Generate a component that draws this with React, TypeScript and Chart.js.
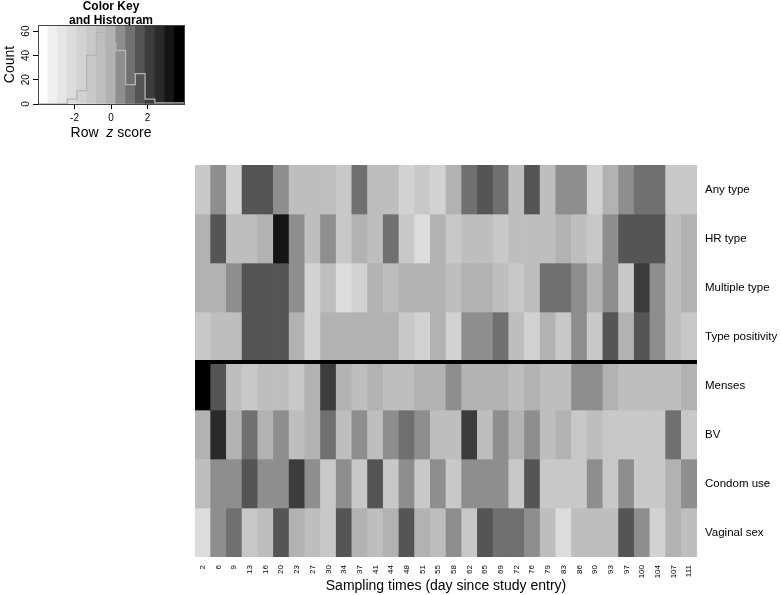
import React, { useEffect, useRef } from "react";
import { Chart, registerables } from "chart.js";

Chart.register(...registerables);

// ---------- data ----------
const sampleDays = ["2","6","9","13","16","20","23","27","30","34","37","41","44","48","51","55","58","62","65","69","72","76","79","83","86","90","93","97","100","104","107","111"];

const rowLabels = ["Any type","HR type","Multiple type","Type positivity","Menses","BV","Condom use","Vaginal sex"];

// row z scores, one value per sampling time
const zAnyType = [-1.1,0.5,-1.6,1.6,1.6,0.5,-0.5,-0.5, -0.5,-1.1,1.1,-0.5,-0.5,-1.6,-1.1,-1.6, 0,1.1,1.6,1.1,-0.5,1.6,-0.5,0.5, 0.5,-1.6,0,0.5,1.1,1.1,-1.1,-1.1];
const zHRType = [0,1.6,-0.5,-0.5,0,3.2,0.5,-0.5, 0.5,-1.1,0,-0.5,1.1,-1.1,-2.1,0, -1.1,-0.5,-0.5,-1.1,-0.5,-0.5,-0.5,0, -0.5,-1.1,0.5,1.6,1.6,1.6,-0.5,0];
const zMultipleType = [0,0,0.5,1.6,1.6,1.6,0.5,-1.6, -0.5,-2.1,-1.6,0,-0.5,0,0,0, -0.5,0,0,-0.5,-1.1,-0.5,1.1,1.1, 0.5,0,0.5,-1.1,2.1,0.5,-0.5,0];
const zTypePositivity = [-1.1,-0.5,-0.5,1.6,1.6,1.6,0,-1.6, 0,0,0,0,0,-1.1,-1.6,0, -1.6,0.5,0.5,1.1,-0.5,-1.6,0,-1.1, 0.5,-1.1,1.6,0,1.6,0.5,-0.5,-1.1];
const zMenses = [3.7,1.6,-0.5,-1.1,-0.5,-0.5,-1.1,0, 2.1,0,-0.5,0,-0.5,-0.5,0,0, 0.5,0,0,0,-0.5,0,-0.5,-0.5, 0.5,0.5,0,-0.5,-0.5,-0.5,-0.5,0];
const zBV = [0,2.7,0,1.1,0,0.5,-0.5,0, 1.1,-0.5,0.5,-0.5,0.5,1.1,0.5,-0.5, -0.5,2.1,-0.5,0.5,0,0.5,-0.5,0, -1.1,-0.5,-1.1,-1.1,-1.1,-1.1,1.1,-1.1];
const zCondomUse = [-0.5,0.5,0.5,1.6,0.5,0.5,2.1,0.5, -1.1,0.5,-1.1,1.6,-1.1,0.5,-1.1,0.5, -1.1,0.5,0.5,0.5,-1.1,1.6,-1.1,-1.1, -1.1,0.5,-1.1,0.5,-1.1,-1.1,0,0.5];
const zVaginalSex = [-2.1,0.5,1.1,-1.1,-0.5,1.6,0,-0.5, -1.1,1.6,0,-0.5,0,1.6,0,-0.5, 0.5,-1.1,1.6,1.1,1.1,0.5,-0.5,-2.1, -0.5,-0.5,-0.5,1.6,0.5,-1.6,0,-0.5];

const rowValues = [zAnyType, zHRType, zMultipleType, zTypePositivity, zMenses, zBV, zCondomUse, zVaginalSex];
const separatorAfterRow = 4;

// colour key
const zMin = -4;
const zMax = 4;
const greyPalette = ["#ffffff","#f0f0f0","#e6e6e6","#dcdcdc","#d2d2d2","#c8c8c8","#bebebe","#b2b2b2","#8e8e8e","#707070","#555555","#3c3c3c","#2a2a2a","#151515","#000000"];
const keyZTicks = [-2, 0, 2];
const keyCountTicks = [0, 20, 40, 60];
const keyCountMax = 65;

// ---------- helpers ----------
const nBins = greyPalette.length;
const binWidth = (zMax - zMin) / nBins;
const binOf = (z: number) => Math.max(0, Math.min(nBins - 1, Math.floor((z - zMin) / binWidth)));
const colourOf = (z: number) => greyPalette[binOf(z)];

const FONT = "'Liberation Sans', Arial, Helvetica, sans-serif";
Chart.defaults.font.family = FONT;
Chart.defaults.color = "#000";

function keyConfig(): any {
  const counts = new Array(nBins).fill(0);
  rowValues.forEach((row) => row.forEach((z) => counts[binOf(z)]++));
  const stepPts: { x: number; y: number }[] = [];
  for (let i = 0; i < nBins; i++) stepPts.push({ x: zMin + i * binWidth, y: counts[i] });
  stepPts.push({ x: zMax, y: counts[nBins - 1] });
  const stripes = greyPalette.map((_, i) => ({ x: zMin + (i + 0.5) * binWidth, y: [0, keyCountMax] }));

  const framePlugin = {
    id: "keyFrame",
    afterDraw(chart: any) {
      const { ctx, chartArea: a } = chart;
      ctx.save();
      ctx.strokeStyle = "#444";
      ctx.lineWidth = 1;
      ctx.strokeRect(Math.round(a.left) + 0.5, Math.round(a.top) + 0.5, Math.round(a.right - a.left), Math.round(a.bottom - a.top));
      // x axis title with italic z
      const parts: [string, string][] = [["Row  ", "normal"], ["z", "italic"], [" score", "normal"]];
      ctx.fillStyle = "#000";
      ctx.textBaseline = "middle";
      ctx.textAlign = "left";
      let total = 0;
      parts.forEach(([t, s]) => { ctx.font = `${s} 14px ${FONT}`; total += ctx.measureText(t).width; });
      let x = (a.left + a.right) / 2 - total / 2;
      parts.forEach(([t, s]) => { ctx.font = `${s} 14px ${FONT}`; ctx.fillText(t, x, 133); x += ctx.measureText(t).width; });
      ctx.restore();
    },
  };

  return {
    type: "bar",
    data: {
      datasets: [
        {
          type: "line",
          data: stepPts,
          stepped: "before",
          borderColor: "#b4b4b4",
          borderWidth: 1.3,
          pointRadius: 0,
          fill: false,
          order: 1,
        },
        {
          type: "bar",
          data: stripes,
          backgroundColor: greyPalette,
          borderWidth: 0,
          barPercentage: 1,
          categoryPercentage: 1,
          order: 2,
        },
      ],
    },
    options: {
      responsive: false,
      animation: false,
      devicePixelRatio: 1,
      events: [],
      layout: { padding: { left: 0, right: 16, top: 0, bottom: 0 } },
      plugins: {
        legend: { display: false },
        tooltip: { enabled: false },
        title: {
          display: true,
          fullSize: false,
          text: ["Color Key", "and Histogram"],
          font: { size: 12, weight: "bold", lineHeight: 1.2 },
          color: "#000",
          padding: { top: -0.5, bottom: -3.3 },
        },
      },
      scales: {
        x: {
          type: "linear",
          min: zMin,
          max: zMax,
          offset: false,
          afterBuildTicks: (s: any) => { s.ticks = keyZTicks.map((v) => ({ value: v })); },
          afterFit: (s: any) => { s.height = 41; },
          grid: { display: true, drawOnChartArea: false, drawTicks: true, tickLength: 5, color: "#000", offset: false },
          border: { display: false },
          ticks: { font: { size: 10 }, padding: 3, color: "#000", maxRotation: 0 },
        },
        y: {
          type: "linear",
          min: 0,
          max: keyCountMax,
          afterBuildTicks: (s: any) => { s.ticks = keyCountTicks.map((v) => ({ value: v })); },
          afterFit: (s: any) => { s.width = 38; },
          grid: { display: true, drawOnChartArea: false, drawTicks: true, tickLength: 5, color: "#000" },
          border: { display: false },
          ticks: { font: { size: 10 }, padding: 1, color: "#000", minRotation: 90, maxRotation: 90, crossAlign: "center" },
          title: { display: true, text: "Count", font: { size: 14 }, padding: { top: 1.6, bottom: 0 }, color: "#000" },
        },
      },
    },
    plugins: [framePlugin],
  };
}

function mapConfig(): any {
  const separatorPlugin = {
    id: "rowSeparator",
    afterDatasetsDraw(chart: any) {
      const { ctx, chartArea: a, scales } = chart;
      const y = scales.y.getPixelForValue(separatorAfterRow);
      ctx.save();
      ctx.strokeStyle = "#000";
      ctx.lineWidth = 4;
      ctx.beginPath();
      ctx.moveTo(a.left, y + 1);
      ctx.lineTo(a.right, y + 1);
      ctx.stroke();
      ctx.restore();
    },
  };

  return {
    type: "bar",
    data: {
      labels: sampleDays,
      datasets: rowValues.map((row, r) => ({
        label: rowLabels[r],
        data: sampleDays.map(() => [r, r + 1]),
        backgroundColor: row.map(colourOf),
        borderWidth: 0,
        grouped: false,
        barPercentage: 1,
        categoryPercentage: 1,
      })),
    },
    options: {
      responsive: false,
      animation: false,
      devicePixelRatio: 1,
      events: [],
      layout: { padding: { left: 195, top: 15, right: 0, bottom: 0 } },
      plugins: { legend: { display: false }, tooltip: { enabled: false }, title: { display: false } },
      scales: {
        x: {
          type: "category",
          offset: true,
          afterFit: (s: any) => { s.height = 38; },
          grid: { display: false, drawTicks: false },
          border: { display: false },
          ticks: { autoSkip: false, minRotation: 90, maxRotation: 90, padding: 8, font: { size: 8 }, color: "#000" },
          title: {
            display: true,
            text: "Sampling times (day since study entry)",
            font: { size: 14 },
            color: "#000",
            padding: { top: 0, bottom: 0 },
          },
        },
        y: {
          type: "linear",
          position: "right",
          min: 0,
          max: rowLabels.length,
          reverse: true,
          afterBuildTicks: (s: any) => { s.ticks = rowLabels.map((_, i) => ({ value: i + 0.5 })); },
          afterFit: (s: any) => { s.width = 84; },
          grid: { display: false, drawTicks: false },
          border: { display: false },
          ticks: {
            padding: 8,
            font: { size: 11.5 },
            color: "#000",
            callback: (v: any) => rowLabels[Math.floor(Number(v))],
          },
        },
      },
    },
    plugins: [separatorPlugin],
  };
}

export default function App() {
  const keyRef = useRef<HTMLCanvasElement>(null);
  const mapRef = useRef<HTMLCanvasElement>(null);

  useEffect(() => {
    const keyChart = new Chart(keyRef.current as HTMLCanvasElement, keyConfig());
    const mapChart = new Chart(mapRef.current as HTMLCanvasElement, mapConfig());
    return () => {
      keyChart.destroy();
      mapChart.destroy();
    };
  }, []);

  return (
    <div style={{ position: "fixed", left: 0, top: 0, width: 781, height: 595, background: "#fff", overflow: "hidden" }}>
      <canvas ref={keyRef} width={200} height={145} style={{ position: "absolute", left: 0, top: 0, width: 200, height: 145 }} />
      <canvas ref={mapRef} width={781} height={445} style={{ position: "absolute", left: 0, top: 150, width: 781, height: 445 }} />
    </div>
  );
}
